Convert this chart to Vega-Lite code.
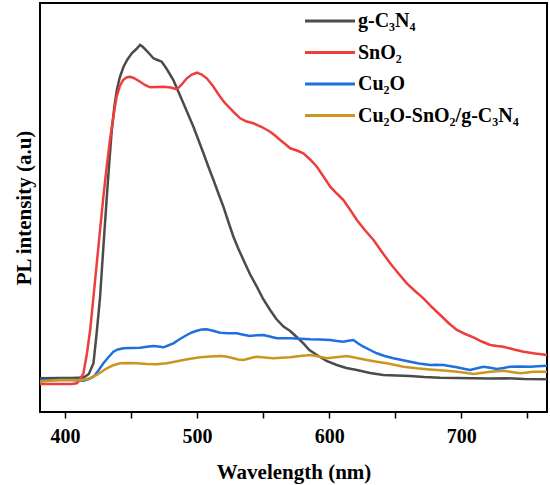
{
  "$schema": "https://vega.github.io/schema/vega-lite/v6.json",
  "width": 507,
  "height": 409,
  "autosize": "none",
  "padding": {"left": 40, "top": 3, "right": 3, "bottom": 73},
  "background": "white",
  "config": {
    "view": {"stroke": "black", "strokeWidth": 2},
    "font": "Liberation Serif"
  },
  "datasets": {
    "g": [
      [381, 33.7], [395, 34], [405, 34], [414, 34.5], [418, 38], [421.5, 48.7], [424, 80], [426.5, 115], [429, 165],
      [431.6, 215], [433.5, 250], [435.4, 282], [437.3, 305], [439.2, 322], [441.5, 335], [444.2, 345], [447, 352],
      [450.5, 358.7], [454, 363], [456.8, 367], [459, 365], [462, 361], [466.9, 353.7], [470, 352], [473.2, 350.3],
      [477, 343], [482, 332], [485.6, 321], [489.6, 308.7], [493.4, 297], [497.2, 285.3], [501, 272], [504.8, 258.7],
      [508.6, 245], [512.4, 232], [516, 219], [519.9, 205.3], [523.7, 190], [527.5, 175.3], [531.3, 163], [535.1, 152],
      [540, 138], [545.2, 125.3], [550, 113], [555.3, 102], [560, 93], [565.4, 85.5], [570.5, 81], [575, 75.5],
      [580.5, 68.7], [585, 62], [590.7, 57], [598, 51], [605.8, 47], [613, 44], [621, 42], [631, 39], [641, 37],
      [651, 36.5], [661, 36], [672, 35], [684, 34.3], [697, 34], [709, 33.7], [722, 33.5], [734.6, 33.7], [748, 33], [765, 32.7]
    ],
    "r": [
      [381, 28], [395, 28], [405, 28], [408.8, 28.7], [411, 32], [413.9, 38.7], [416.5, 58], [419, 82], [421.5, 115],
      [424, 148.7], [426.5, 182], [429, 215.3], [431.5, 245], [434, 272], [436.5, 295], [439, 315], [441.5, 326],
      [444, 332], [446.5, 334.5], [449, 335.3], [452, 334], [456.8, 330.3], [460.5, 327], [464.4, 324.7], [469, 325],
      [474.5, 325.3], [480, 324.5], [484.6, 322.7], [488, 327], [492.2, 333.7], [496, 337.5], [499.8, 339.3],
      [503.5, 337.5], [507.3, 333.7], [512, 326], [517.4, 315.3], [521, 309], [525, 303.7], [528.8, 298.5],
      [532.6, 293.7], [537.5, 290.5], [542.7, 288.7], [549, 285], [555.3, 280.3], [559, 276.5], [562.9, 272],
      [566.7, 268], [570.5, 263.7], [575.5, 261.5], [580.5, 258.7], [585.6, 252.5], [590.7, 245.3], [595.7, 235.5],
      [600.8, 225.3], [605.8, 218.5], [610.8, 212], [616, 202], [621, 192], [627, 182], [633.6, 172], [640, 160],
      [646.2, 148.7], [652.5, 138.5], [658.8, 128.7], [665, 121], [671.4, 113.7], [677.8, 105], [684.1, 97],
      [690.4, 89], [696.7, 82], [703, 78], [709.3, 74.7], [715.6, 70.5], [722, 67], [727, 66], [732, 65.3],
      [740, 62.5], [747.2, 60.3], [756, 58.5], [765, 57]
    ],
    "b": [
      [381, 31.5], [395, 32], [405, 32], [413.9, 31.3], [418, 33], [421.5, 35.3], [425, 41], [429, 48.7], [433, 55],
      [436.6, 60.3], [440, 62.5], [444.2, 63.7], [450, 64], [456.8, 64.3], [462, 65.2], [466.9, 66], [470.5, 65.5],
      [474.5, 64.7], [478, 66.5], [482, 68.7], [487, 73], [492.2, 77], [496, 79.5], [499.8, 81.3], [503.5, 82.5],
      [507.3, 82.7], [512, 81.3], [517.4, 79.3], [523.5, 78.8], [530, 78.7], [535, 77.3], [540, 76], [545, 76.8],
      [550.2, 77], [555, 75.5], [560.3, 73.7], [565, 73.8], [570.5, 73.7], [578, 73.2], [585.6, 72.7], [593, 72.5],
      [600.8, 72], [606, 71], [610.8, 70.3], [614.5, 71.3], [618.4, 72], [622, 68.5], [626, 65.3], [631, 62],
      [636.1, 58.7], [642, 56], [648.7, 53.7], [655, 52], [661.4, 50.3], [668, 48.5], [676.5, 47], [681, 47.2],
      [686.6, 47], [691, 46], [696.7, 44.7], [702, 43.3], [706.8, 42], [712, 43.8], [716.9, 45.3], [722, 44.2],
      [727, 43], [732, 44], [737.1, 45.3], [745, 45.5], [752.3, 45.3], [758, 45.8], [765, 46.3]
    ],
    "c": [
      [381, 30.3], [390, 31.5], [396, 32], [405, 32], [413.9, 32], [419, 34], [424, 37], [428, 40.5], [431.6, 43.7],
      [436, 46.5], [441.7, 48.7], [448, 49], [454.3, 48.7], [462, 48], [469.4, 47.7], [473, 48.2], [477, 48.7],
      [483, 50.3], [489.6, 52], [496, 53.5], [502.3, 54.7], [510, 55.5], [517.4, 56], [522, 55.5], [527.5, 53.7],
      [531, 52.5], [535.1, 52], [540, 53.8], [545.2, 55.3], [551, 54.5], [557.8, 53.7], [564, 54.3], [570.5, 54.7],
      [578, 56], [585.6, 57], [592, 55.5], [598.2, 53.7], [605, 54.8], [613.4, 56], [621, 54], [628.6, 52],
      [636, 50.3], [643.7, 48.7], [650, 47], [656.3, 45.3], [661, 44.5], [666.4, 43.7], [674, 42.8], [681.6, 42],
      [689, 41.2], [696.7, 40.3], [703, 39.2], [709.3, 38], [715, 39], [722, 40.3], [727, 40.8], [732, 41.3],
      [738, 40], [744.7, 38.7], [750, 39.5], [754.8, 40.3], [765, 40.3]
    ]
  },
  "layer": [
    {
      "data": {"name": "g"},
      "transform": [
        {"calculate": "'g-C₃N₄'", "as": "sample"},
        {"calculate": "datum[0]", "as": "wavelength"},
        {"calculate": "datum[1]", "as": "intensity"}
      ],
      "mark": {"type": "line", "strokeWidth": 2.5},
      "encoding": {
        "x": {"field": "wavelength", "type": "quantitative"},
        "y": {"field": "intensity", "type": "quantitative"},
        "color": {"field": "sample", "type": "nominal"}
      }
    },
    {
      "data": {"name": "r"},
      "transform": [
        {"calculate": "'SnO₂'", "as": "sample"},
        {"calculate": "datum[0]", "as": "wavelength"},
        {"calculate": "datum[1]", "as": "intensity"}
      ],
      "mark": {"type": "line", "strokeWidth": 2.5},
      "encoding": {
        "x": {"field": "wavelength", "type": "quantitative"},
        "y": {"field": "intensity", "type": "quantitative"},
        "color": {"field": "sample", "type": "nominal"}
      }
    },
    {
      "data": {"name": "b"},
      "transform": [
        {"calculate": "'Cu₂O'", "as": "sample"},
        {"calculate": "datum[0]", "as": "wavelength"},
        {"calculate": "datum[1]", "as": "intensity"}
      ],
      "mark": {"type": "line", "strokeWidth": 2.5},
      "encoding": {
        "x": {"field": "wavelength", "type": "quantitative"},
        "y": {"field": "intensity", "type": "quantitative"},
        "color": {"field": "sample", "type": "nominal"}
      }
    },
    {
      "data": {"name": "c"},
      "transform": [
        {"calculate": "'Cu₂O-SnO₂/g-C₃N₄'", "as": "sample"},
        {"calculate": "datum[0]", "as": "wavelength"},
        {"calculate": "datum[1]", "as": "intensity"}
      ],
      "mark": {"type": "line", "strokeWidth": 2.5},
      "encoding": {
        "x": {
          "field": "wavelength",
          "type": "quantitative",
          "title": "Wavelength (nm)",
          "scale": {"domain": [381, 765], "nice": false, "zero": false},
          "axis": {
            "values": [400, 450, 500, 550, 600, 650, 700, 750],
            "labelExpr": "datum.value % 100 === 0 ? datum.label : ''",
            "grid": false,
            "domain": false,
            "tickColor": "black",
            "tickWidth": 1.5,
            "tickSize": 6,
            "labelPadding": 8,
            "labelFont": "Liberation Serif",
            "labelFontWeight": "bold",
            "labelFontSize": 20,
            "labelColor": "black",
            "titleFont": "Liberation Serif",
            "titleFontWeight": "bold",
            "titleFontSize": 21,
            "titleColor": "black",
            "titlePadding": 15
          }
        },
        "y": {
          "field": "intensity",
          "type": "quantitative",
          "title": "PL intensity (a.u)",
          "scale": {"domain": [0, 409], "nice": false},
          "axis": {
            "labels": false,
            "ticks": false,
            "grid": false,
            "domain": false,
            "titleFont": "Liberation Serif",
            "titleFontWeight": "bold",
            "titleFontSize": 21,
            "titleColor": "black",
            "titlePadding": 6
          }
        },
        "color": {
          "field": "sample",
          "type": "nominal",
          "scale": {
            "domain": ["g-C₃N₄", "SnO₂", "Cu₂O", "Cu₂O-SnO₂/g-C₃N₄"],
            "range": ["#4b4b4b", "#ee3d3d", "#1f6fdf", "#c9971f"]
          },
          "legend": {
            "title": null,
            "orient": "none",
            "legendX": 251,
            "legendY": 4,
            "symbolType": "M0,0H4",
            "symbolSize": 625,
            "symbolStrokeWidth": 3,
            "labelFont": "Liberation Serif",
            "labelFontWeight": "bold",
            "labelFontSize": 20,
            "labelColor": "black",
            "labelOffset": 39,
            "rowPadding": 7.5,
            "labelLimit": 300
          }
        }
      }
    }
  ]
}
